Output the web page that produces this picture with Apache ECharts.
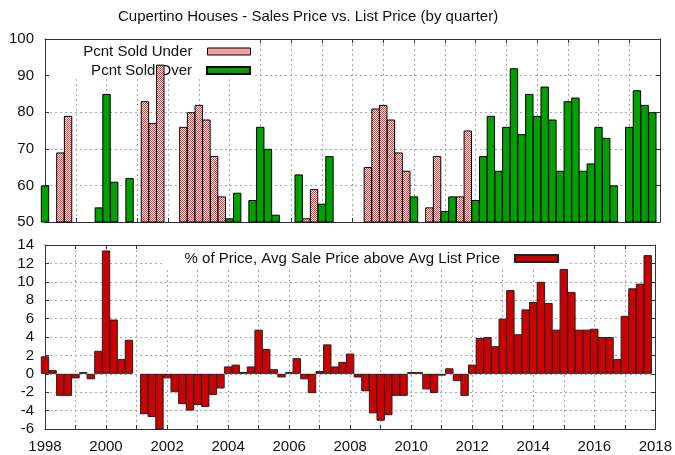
<!DOCTYPE html>
<html><head><meta charset="utf-8">
<script src="https://cdn.jsdelivr.net/npm/echarts@6/dist/echarts.min.js"></script>
<style>html,body{margin:0;padding:0;background:#fff}#c{width:675px;height:455px}</style>
</head><body><div id="c"></div>
<script>
const years = [1998,1999,2000,2001,2002,2003,2004,2005,2006,2007,2008,2009,2010,2011,2012,2013,2014,2015,2016,2017];
const quarterNames = ['Q1','Q2','Q3','Q4'];
const categories = years.flatMap(y => quarterNames.map(q => y + ' ' + q)).concat(['2018 Q1']);

// Top panel: percent of homes sold under / over list (one row = one year, Q1..Q4)
const pctSoldUnder = [
  null,null,69,79,   null,null,null,null,   null,null,null,null,   null,83,77,93,
  null,null,76,80,   82,78,68,57,           null,null,null,null,   null,null,null,null,
  null,null,51,59,   null,null,null,null,   null,null,65,81,       82,78,69,64,
  null,null,54,68,   null,null,57,75,       null,null,null,null,   null,null,null,null,
  null,null,null,null, null,null,null,null, null,null,null,null,   null,null,null,null
];
const pctSoldOver = [
  60,null,null,null, null,null,null,54,     85,61,null,62,         null,null,null,null,
  null,null,null,null, null,null,null,null, 51,58,null,56,         76,70,52,null,
  null,63,null,null, 55,68,null,null,       null,null,null,null,   null,null,null,null,
  57,null,null,null, 53,57,null,null,       56,68,79,64,           76,92,74,85,
  79,87,78,64,       83,84,64,66,           76,73,60,null,         76,86,82,80
];
// Bottom panel: % avg sale price above avg list price
const pctAboveList = [
  1.9,0.4,-2.4,-2.4,   -0.5,0.2,-0.6,2.5,   13.4,5.9,1.6,3.7,    null,-4.4,-4.7,-6.3,
  -0.5,-2.0,-3.3,-4.0, -3.4,-3.6,-2.3,-1.6, 0.8,1.0,0.2,0.8,     4.8,2.7,0.5,-0.4,
  0.2,1.7,-0.6,-2.1,   0.3,3.2,0.8,1.3,     2.2,-0.4,-1.9,-4.3,  -5.1,-4.5,-2.4,-2.4,
  0.2,0.2,-1.7,-2.1,   -0.2,0.6,-0.8,-2.4,  1.0,3.9,4.0,3.0,     6.0,9.1,4.3,7.0,
  7.8,10.0,7.7,4.8,    11.4,8.9,4.8,4.8,    4.9,4.0,4.0,1.6,     6.3,9.3,9.8,12.9
];
const topRange = {min: 50, max: 100, interval: 10};
const bottomRange = {min: -6, max: 14, interval: 2};

function makePattern(){
  const c = document.createElement('canvas'); c.width = 2; c.height = 2;
  const ctx = c.getContext('2d');
  ctx.fillStyle = '#ffffff'; ctx.fillRect(0,0,2,2);
  ctx.fillStyle = '#e83c3c'; ctx.fillRect(0,0,1,1); ctx.fillRect(1,1,1,1);
  return c;
}
const pinkPattern = {image: makePattern(), repeat: 'repeat'};
const FONT = 'Liberation Sans, Arial, sans-serif';
const AX = '#333';
const gridLine = {type:[2,3], color:'#a8a8a8', width:1};
const BAR_W = 8.4;

function xAx(gi, pos, labels, split){
  return {type:'category', gridIndex:gi, position:pos, data:categories, boundaryGap:false,
    axisLine:{show:true, onZero:false, lineStyle:{color:AX, width:1}},
    axisTick:{show:true, inside:true, interval:3, length:4, lineStyle:{color:AX}},
    axisLabel:{show:labels, interval:7, margin:10, formatter:v=>v.slice(0,4), fontFamily:FONT, fontSize:15, color:'#111'},
    splitLine:{show:split, interval:3, lineStyle:gridLine}};
}
function yAx(gi, pos, r, labels, split){
  return {type:'value', gridIndex:gi, position:pos, min:r.min, max:r.max, interval:r.interval,
    axisLine:{show:true, onZero:false, lineStyle:{color:AX, width:1}},
    axisTick:{show:true, inside:true, length:4, lineStyle:{color:AX}},
    axisLabel:{show:labels, margin:11, fontFamily:FONT, fontSize:15, color:'#111'},
    splitLine:{show:split, lineStyle:gridLine}};
}
const legendBase = {orient:'horizontal', align:'right', icon:'rect', itemWidth:43, itemHeight:7,
  selectedMode:false, backgroundColor:'#fff', z:1,
  textStyle:{fontFamily:FONT, fontSize:15, color:'#111', padding:[0,10,0,0]}};

const chart = echarts.init(document.getElementById('c'), null, {renderer:'canvas'});
chart.setOption({
  animation:false,
  backgroundColor:'#fff',
  title:{text:'Cupertino Houses - Sales Price vs. List Price (by quarter)', left:118, top:9, padding:0,
    textStyle:{fontFamily:FONT, fontSize:15, fontWeight:'normal', color:'#111'}},
  grid:[{left:45, top:39, width:615, height:183}, {left:45, top:245, width:615, height:184}],
  xAxis:[xAx(0,'bottom',false,true), xAx(0,'top',false,false), xAx(1,'bottom',true,true), xAx(1,'top',false,false)],
  yAxis:[yAx(0,'left',topRange,true,true), yAx(0,'right',topRange,false,false),
         yAx(1,'left',bottomRange,true,true), yAx(1,'right',bottomRange,false,false)],
  legend:[
    Object.assign({}, legendBase, {data:[{name:'Pcnt Sold Under', itemStyle:{color:pinkPattern, borderColor:'#000', borderWidth:1}}], right:420, top:40, padding:[4,4,2,30]}),
    Object.assign({}, legendBase, {data:['Pcnt Sold Over'], right:420, top:61, padding:[2,4,0,41]}),
    Object.assign({}, legendBase, {data:['% of Price, Avg Sale Price above Avg List Price'], right:108, top:246, padding:[5,8,3,23]})
  ],
  series:[
    {name:'Pcnt Sold Under', type:'bar', xAxisIndex:0, yAxisIndex:0, data:pctSoldUnder, z:2,
     barGap:'-100%', barWidth:BAR_W,
     itemStyle:{color:pinkPattern, borderColor:'#000', borderWidth:1}},
    {name:'Pcnt Sold Over', type:'bar', xAxisIndex:0, yAxisIndex:0, data:pctSoldOver, z:2,
     barGap:'-100%', barWidth:BAR_W,
     itemStyle:{color:'#00a000', borderColor:'#000', borderWidth:1}},
    {name:'% of Price, Avg Sale Price above Avg List Price', type:'bar', xAxisIndex:2, yAxisIndex:2, data:pctAboveList, z:2,
     barWidth:BAR_W,
     itemStyle:{color:'#cc0000', borderColor:'#222', borderWidth:1}}
  ]
});
</script></body></html>
